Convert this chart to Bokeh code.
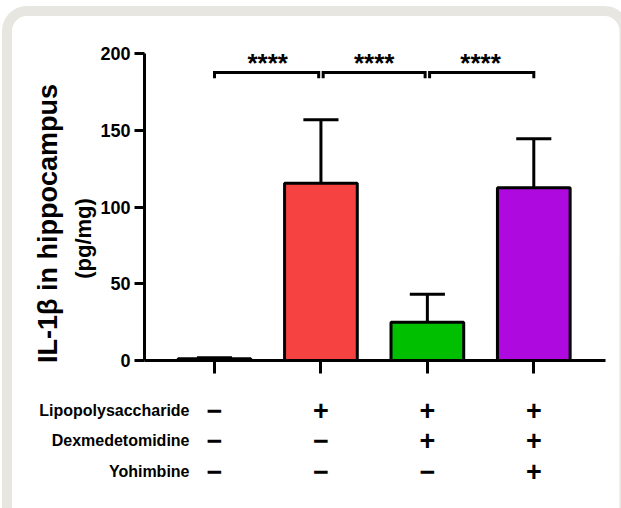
from math import pi
from bokeh.plotting import figure
from bokeh.models import Range1d, FixedTicker, LinearAxis, BoxAnnotation
from bokeh.core.properties import value
from bokeh.embed import file_html
from bokeh.resources import INLINE

# ---------------- data ----------------
groups = ["Control", "LPS", "LPS+Dex", "LPS+Dex+Yoh"]
means = [1.1, 115.5, 24.9, 112.5]
sds = [0.7, 41.3, 18.3, 31.9]
colors = ["#FFFFFF", "#F74242", "#00BF00", "#AE0AE0"]
y_ticks = [0, 50, 100, 150, 200]
comparisons = [(0, 1), (1, 2), (2, 3)]
comparison_labels = ["****", "****", "****"]
row_names = ["Lipopolysaccharide", "Dexmedetomidine", "Yohimbine"]
row_signs = [["\u2212", "+", "+", "+"],
             ["\u2212", "\u2212", "+", "+"],
             ["\u2212", "\u2212", "\u2212", "+"]]
y_title = ["IL-1\u03b2 in hippocampus", "(pg/mg)"]

# ---------------- layout ----------------
W, H = 621, 508
PXX = 106.43          # px per category step
PXY = 1.535           # px per y unit
X0_PAGE, Y0_PAGE = 214, 360
x_start = (0 - X0_PAGE) / PXX
x_end = x_start + W / PXX
y_end = (Y0_PAGE - 0) / PXY
y_start = y_end - H / PXY


def dx(px):
    return (px - X0_PAGE) / PXX


def dy(py):
    return (Y0_PAGE - py) / PXY


FONT = value("Liberation Sans")

p = figure(width=W, height=H, x_range=Range1d(x_start, x_end), y_range=Range1d(y_start, y_end),
           output_backend="svg", toolbar_location=None, x_axis_location=None, y_axis_location=None,
           min_border=0, outline_line_color=None, background_fill_color="white",
           border_fill_color="white")
p.xgrid.grid_line_color = None
p.ygrid.grid_line_color = None

xs = list(range(len(groups)))
yaxis_x = dx(144)
xaxis_right = dx(605)

yaxis = LinearAxis(fixed_location=yaxis_x, bounds=(y_ticks[0], y_ticks[-1]),
                   ticker=FixedTicker(ticks=y_ticks))
xaxis = LinearAxis(fixed_location=0, bounds=(yaxis_x, xaxis_right),
                   ticker=FixedTicker(ticks=xs),
                   major_label_overrides={i: "" for i in xs})
for ax in (yaxis, xaxis):
    ax.axis_line_width = 3
    ax.axis_line_color = "black"
    ax.major_tick_line_width = 3
    ax.major_tick_line_color = "black"
    ax.minor_tick_line_color = None
    ax.major_tick_in = 0
yaxis.major_tick_out = 10
xaxis.major_tick_out = 13
yaxis.major_label_standoff = 4
yaxis.major_label_text_font = "Liberation Sans"
yaxis.major_label_text_font_style = "bold"
yaxis.major_label_text_font_size = "18px"
yaxis.major_label_text_color = "black"
p.add_layout(yaxis, "left")
p.add_layout(xaxis, "below")

# frame decoration (rounded panel border); screen y is measured from the bottom
p.add_layout(BoxAnnotation(left=6.5, right=624, top=H - 10.5, bottom=-60,
                           left_units="screen", right_units="screen",
                           top_units="screen", bottom_units="screen",
                           fill_alpha=0, line_color="#e8e6e1", line_alpha=1,
                           line_width=10, border_radius=20))

# error bars
tops = [m + s for m, s in zip(means, sds)]
cap = 0.165
p.segment(x0=xs, y0=means, x1=xs, y1=tops, line_color="black", line_width=3)
p.segment(x0=[x - cap for x in xs], y0=tops, x1=[x + cap for x in xs], y1=tops,
          line_color="black", line_width=3)

# bars
p.vbar(x=xs, width=0.683, bottom=0, top=means, fill_color=colors,
       line_color="black", line_width=3)

# significance brackets
by = dy(72)
drop = 3.7
inset = 0.021
starts = [a for a, b in comparisons]
ends = [b for a, b in comparisons]
bx, byy, sx, sy = [], [], [], []
for (a, b) in comparisons:
    xa = a + (inset if a in ends else 0)
    xb = b - (inset if b in starts else 0)
    bx.append([xa, xa, xb, xb])
    byy.append([by - drop, by, by, by - drop])
    sx.append((a + b) / 2)
    sy.append(dy(62))
p.multi_line(xs=bx, ys=byy, line_color="black", line_width=3, line_join="miter")
p.text(x=sx, y=sy, text=comparison_labels, text_align="center", text_baseline="middle",
       text_font=FONT, text_font_style="bold", text_font_size="26px", text_color="black")

# y title
p.text(x=[dx(47)], y=[dy(223)], text=[y_title[0]], angle=pi / 2,
       text_align="center", text_baseline="alphabetic", text_font=FONT,
       text_font_style="bold", text_font_size="27px", text_color="black")
p.text(x=[dx(83)], y=[dy(238)], text=[y_title[1]], angle=pi / 2,
       text_align="center", text_baseline="alphabetic", text_font=FONT,
       text_font_style="bold", text_font_size="22px", text_color="black")

# treatment table
row_y = [dy(yy) for yy in (409.5, 440, 471)]
p.text(x=[dx(189)] * 3, y=row_y, text=row_names, text_align="right",
       text_baseline="middle", text_font=FONT, text_font_style="bold",
       text_font_size="16px", text_color="black")
tx, ty, tt = [], [], []
for r, signs in enumerate(row_signs):
    for i, s in enumerate(signs):
        tx.append(xs[i]); ty.append(row_y[r]); tt.append(s)
p.text(x=tx, y=ty, text=tt, text_align="center", text_baseline="middle", text_font=FONT,
       text_font_style="bold", text_font_size="27px", text_color="black")

open("out.html", "w").write(file_html(p, INLINE))
